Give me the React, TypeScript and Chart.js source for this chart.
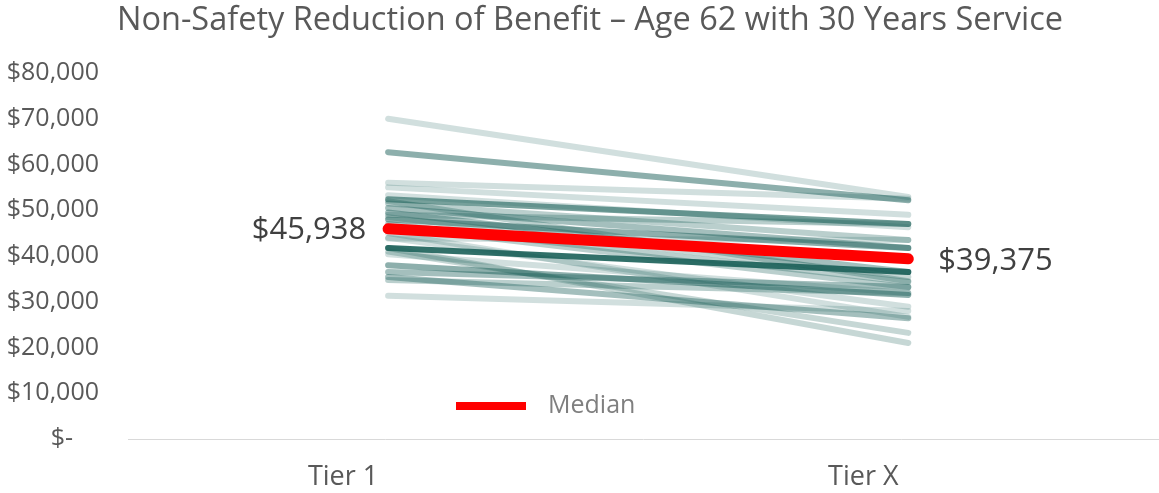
import React, { useEffect, useRef } from "react";
import { Chart, registerables } from "chart.js";

Chart.register(...registerables);

const categories = ["Tier 1", "Tier X"];
const chartTitle = "Non-Safety Reduction of Benefit \u2013 Age 62 with 30 Years Service";
const medianLabel = "Median";
const medianValues = [45938, 39375];
const medianLabels = ["$45,938", "$39,375"];

// each member's benefit at Tier 1 and Tier X
const tier1Values = [70000, 62700, 56000, 55000, 53300, 52400, 51500, 50500, 49500, 48500, 48000, 47000, 46500, 44000, 43800, 41750, 41750, 41000, 40400, 38000, 36500, 35400, 34750, 31300, 49000, 52000, 45000];
const tierXValues = [52900, 52200, 52500, 49000, 46300, 47000, 43500, 41750, 36500, 35400, 41750, 34300, 33200, 28900, 43500, 36500, 21000, 23200, 31900, 31500, 33200, 26400, 31900, 28000, 47000, 34500, 26700];
const lineShade = [0.2, 0.5, 0.2, 0.2, 0.2, 0.6, 0.3, 0.4, 0.4, 0.25, 0.5, 0.3, 0.3, 0.2, 0.2, 0.9, 0.25, 0.25, 0.2, 0.5, 0.4, 0.4, 0.3, 0.2, 0.3, 0.3, 0.2];

const yTickValues = [0, 10000, 20000, 30000, 40000, 50000, 60000, 70000, 80000];

const FONT = "'Open Sans'";

function fmtMoney(v: number): string {
  if (v === 0) return "$-    ";
  return "$" + v.toLocaleString("en-US");
}

export default function App() {
  const ref = useRef<HTMLCanvasElement | null>(null);
  useEffect(() => {
    const canvas = ref.current;
    if (!canvas) return;

    const annotate = {
      id: "annotate",
      afterDatasetsDraw(chart: any) {
        const ctx = chart.ctx;
        const meta = chart.getDatasetMeta(0);
        const p0 = meta.data[0];
        const p1 = meta.data[1];
        ctx.save();
        // title
        ctx.fillStyle = "#595959";
        ctx.font = `32.5px ${FONT}`;
        ctx.textBaseline = "middle";
        ctx.textAlign = "center";
        ctx.fillText(chartTitle, 590, 21);
        // median value labels
        ctx.fillStyle = "#404040";
        ctx.font = `31px ${FONT}`;
        ctx.textAlign = "right";
        ctx.fillText(medianLabels[0], p0.x - 22, p0.y + 1);
        ctx.textAlign = "left";
        ctx.fillText(medianLabels[1], p1.x + 30, p1.y + 2);
        // legend
        ctx.fillStyle = "#ff0000";
        ctx.fillRect(456, 402, 70, 8);
        ctx.fillStyle = "#7f7f7f";
        ctx.font = `25px ${FONT}`;
        ctx.textAlign = "left";
        ctx.fillText(medianLabel, 548, 406);
        ctx.restore();
      },
    };

    const memberSets = tier1Values.map((v, i) => ({
      label: "member" + i,
      data: [
        { x: 0, y: v },
        { x: 1, y: tierXValues[i] },
      ],
      borderColor: `rgba(27, 96, 89, ${lineShade[i]})`,
      borderWidth: 6,
      borderCapStyle: "round" as const,
      pointRadius: 0,
      order: 1,
    }));

    const chart = new Chart(canvas, {
      type: "line",
      data: {
        datasets: [
          {
            label: medianLabel,
            data: medianValues.map((v, i) => ({ x: i, y: v })),
            borderColor: "#ff0000",
            borderWidth: 11,
            borderCapStyle: "round",
            pointRadius: 0,
            order: 0,
          },
          ...memberSets,
        ],
      },
      options: {
        animation: false,
        responsive: false,
        layout: { padding: { top: 73, right: 1, left: 0, bottom: 0 } },
        plugins: {
          legend: { display: false },
          tooltip: { enabled: false },
          title: { display: false },
        },
        scales: {
          x: {
            type: "linear",
            min: -0.5,
            max: 1.48,
            afterBuildTicks: (scale: any) => {
              scale.ticks = categories.map((_, i) => ({ value: i }));
            },
            afterFit: (scale: any) => {
              scale.height = 54;
            },
            grid: { display: false },
            border: { display: true, color: "#d9d9d9", width: 1 },
            ticks: {
              color: "#595959",
              font: { family: FONT, size: 27 },
              padding: 14,
              labelOffset: -45,
              maxRotation: 0,
              callback: (v: any) => categories[Number(v)] ?? "",
            },
          },
          y: {
            min: 0,
            max: 80000,
            afterBuildTicks: (scale: any) => {
              scale.ticks = yTickValues.map((v) => ({ value: v }));
            },
            afterFit: (scale: any) => {
              scale.width = 128;
            },
            grid: { display: false },
            border: { display: false },
            ticks: {
              color: "#595959",
              font: { family: FONT, size: 25 },
              padding: 21,
              callback: (v: any) => fmtMoney(Number(v)),
            },
          },
        },
      },
      plugins: [annotate],
    });
    return () => chart.destroy();
  }, []);

  return (
    <div style={{ position: "fixed", left: 0, top: 0, width: 1159, height: 493, background: "#fff" }}>
      <canvas ref={ref} width={1159} height={493} style={{ display: "block" }} />
    </div>
  );
}
